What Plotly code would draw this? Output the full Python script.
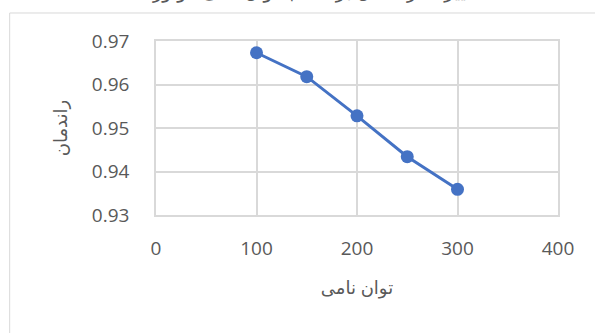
import plotly.graph_objects as go

# Rated power vs. efficiency
rated_power = [100, 150, 200, 250, 300]
efficiency = [0.9673, 0.9618, 0.9528, 0.9434, 0.9359]

x_ticks = [0, 100, 200, 300, 400]
y_ticks = [0.93, 0.94, 0.95, 0.96, 0.97]

chart_title = "تغییرات راندمان بر حسب توان نامی موتور"
x_title = "توان نامی"
y_title = "راندمان"

FONT = "Open Sans, DejaVu Sans, sans-serif"
TEXT = "#595959"
GRID = "#d9d9d9"
BLUE = "#4472C4"

fig = go.Figure()
fig.add_trace(go.Scatter(
    x=rated_power,
    y=efficiency,
    mode="lines+markers",
    line=dict(color=BLUE, width=3),
    marker=dict(color=BLUE, size=13),
    showlegend=False,
))

fig.update_layout(
    width=595,
    height=333,
    margin=dict(l=155.5, r=37, t=41, b=118),
    paper_bgcolor="white",
    plot_bgcolor="white",
    font=dict(family=FONT, size=19, color=TEXT),
    xaxis=dict(
        range=[0, 400],
        tickvals=x_ticks,
        ticktext=[str(v) for v in x_ticks],
        showgrid=True,
        gridcolor=GRID,
        gridwidth=1.5,
        zeroline=False,
        showline=True,
        linecolor=GRID,
        linewidth=1.5,
        mirror=True,
        ticks="",
        ticklabelstandoff=15,
        title=dict(text=x_title, standoff=22, font=dict(size=18, color=TEXT)),
    ),
    yaxis=dict(
        range=[0.93, 0.97],
        tickvals=y_ticks,
        ticktext=[f"{v:.2f}" for v in y_ticks],
        showgrid=True,
        gridcolor=GRID,
        gridwidth=1.5,
        zeroline=False,
        showline=True,
        linecolor=GRID,
        linewidth=1.5,
        mirror=True,
        ticks="",
        ticklabelstandoff=21,
        title=dict(text=y_title, standoff=20, font=dict(size=18, color=TEXT)),
    ),
)

# Chart-area frame around the whole plot
fig.add_shape(
    type="rect", xref="paper", yref="paper",
    x0=-0.364, x1=1.12, y0=-0.75, y1=1.161,
    line=dict(color=GRID, width=1), fillcolor="rgba(0,0,0,0)", layer="below",
)

# Chart title sitting above the frame
fig.add_annotation(
    text=chart_title, xref="paper", yref="paper",
    x=0.40, y=1.29, xanchor="center", yanchor="middle",
    showarrow=False, font=dict(family=FONT, size=19, color=TEXT),
)

fig.write_html("out.html")
